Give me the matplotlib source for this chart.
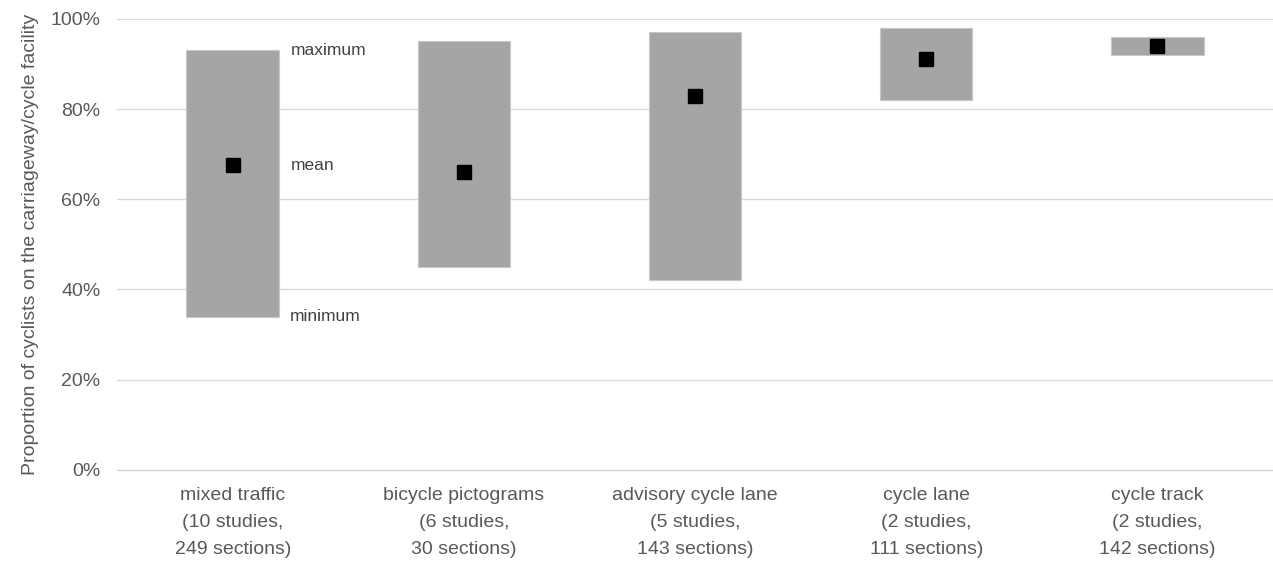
import numpy as np
import matplotlib.pyplot as plt

plt.rcParams["font.family"] = ["Liberation Sans", "DejaVu Sans"]

categories = [
    "mixed traffic\n(10 studies,\n249 sections)",
    "bicycle pictograms\n(6 studies,\n30 sections)",
    "advisory cycle lane\n(5 studies,\n143 sections)",
    "cycle lane\n(2 studies,\n111 sections)",
    "cycle track\n(2 studies,\n142 sections)",
]
minimum = [34, 45, 42, 82, 92]
maximum = [93, 95, 97, 98, 96]
mean = [67.5, 66, 83, 91, 94]

text_color = "#595959"

fig = plt.figure(figsize=(12.73, 5.73), dpi=100)
ax = fig.add_axes([0.092, 0.18, 0.908, 0.787])

x = np.arange(len(categories))
lo = np.array(minimum)
hi = np.array(maximum)

ax.vlines(x, lo, hi, color="#595959", linewidth=0.8, zorder=2)
ax.bar(x, hi - lo, bottom=lo, width=0.4, color="#a5a5a5",
       edgecolor="#c8c8c8", linewidth=0.8, zorder=3)
ax.plot(x, mean, linestyle="none", marker="s", markersize=10,
        color="black", zorder=4)

# labels for first box
ax.text(x[0] + 0.25, maximum[0], "maximum", va="center", ha="left",
        fontsize=12.5, color="#404040")
ax.text(x[0] + 0.25, mean[0], "mean", va="center", ha="left",
        fontsize=12.5, color="#404040")
ax.text(x[0] + 0.245, minimum[0], "minimum", va="center", ha="left",
        fontsize=12.5, color="#404040")

ax.set_xlim(-0.5, len(categories) - 0.5)
ax.set_ylim(0, 100)
ax.set_yticks(np.arange(0, 101, 20))
ax.set_yticklabels([f"{v}%" for v in range(0, 101, 20)])
ax.set_xticks(x)
ax.set_xticklabels(categories, linespacing=1.8)
ax.tick_params(axis="both", length=0, labelsize=14, colors=text_color)
ax.tick_params(axis="x", pad=12)
ax.tick_params(axis="y", pad=12)

ax.grid(axis="y", color="#d9d9d9", linewidth=1)
ax.axhline(0, color="#d9d9d9", linewidth=1, clip_on=False, zorder=0)
ax.set_axisbelow(True)
for s in ax.spines.values():
    s.set_visible(False)

ax.set_ylabel("Proportion of cyclists on the carriageway/cycle facility",
              fontsize=14, color=text_color, labelpad=8)

plt.savefig("out.png", dpi=100)
